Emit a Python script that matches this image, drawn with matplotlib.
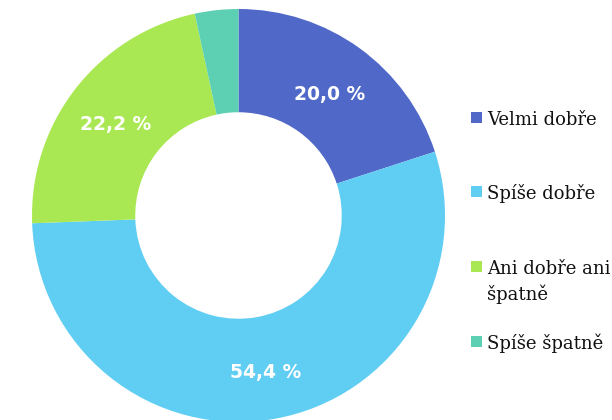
import matplotlib
matplotlib.use("Agg")
import matplotlib.pyplot as plt
from matplotlib.patches import Rectangle
import numpy as np

categories = ["Velmi dobře", "Spíše dobře", "Ani dobře ani\nšpatně", "Spíše špatně"]
values = [20.0, 54.4, 22.2, 3.4]
labels = ["20,0 %", "54,4 %", "22,2 %", ""]
colors = ["#5068C8", "#60CDF3", "#A9E852", "#5DD0B3"]

W, H = 612, 420
fig = plt.figure(figsize=(W / 100, H / 100), dpi=100)

cx, cy, r = 238.5, 215.5, 206.5
ax = fig.add_axes([(cx - r) / W, (H - cy - r) / H, 2 * r / W, 2 * r / H])
wedges, _ = ax.pie(values, colors=colors, startangle=90, counterclock=False,
                   radius=1.0, wedgeprops=dict(width=0.5, edgecolor="none"))
ax.set_xlim(-1, 1)
ax.set_ylim(-1, 1)
ax.set_aspect("equal")
ax.axis("off")

cum = np.cumsum([0] + values)
tot = sum(values)
for i, lab in enumerate(labels):
    if not lab:
        continue
    mid = (cum[i] + cum[i + 1]) / 2 / tot
    ang = np.deg2rad(90 - 360 * mid)
    ax.text(0.75 * np.cos(ang), 0.75 * np.sin(ang) - 0.02, lab, ha="center", va="center",
            color="white", fontsize=13.5, fontweight="bold", family="DejaVu Sans")

# legend
sq_centers = [117, 191, 266.5, 341]
for cat, col, yc in zip(categories, colors, sq_centers):
    fig.patches.append(Rectangle((470.5 / W, (H - yc - 5.5) / H), 11 / W, 11 / H,
                                 transform=fig.transFigure, facecolor=col,
                                 edgecolor="none"))
    for k, line in enumerate(cat.split("\n")):
        yb = yc + 8 + 25 * k
        fig.text(487.5 / W, (H - yb) / H, line, ha="left", va="baseline",
                 fontsize=13, family="DejaVu Serif", color="#111111")

fig.savefig("out.png", dpi=100)
